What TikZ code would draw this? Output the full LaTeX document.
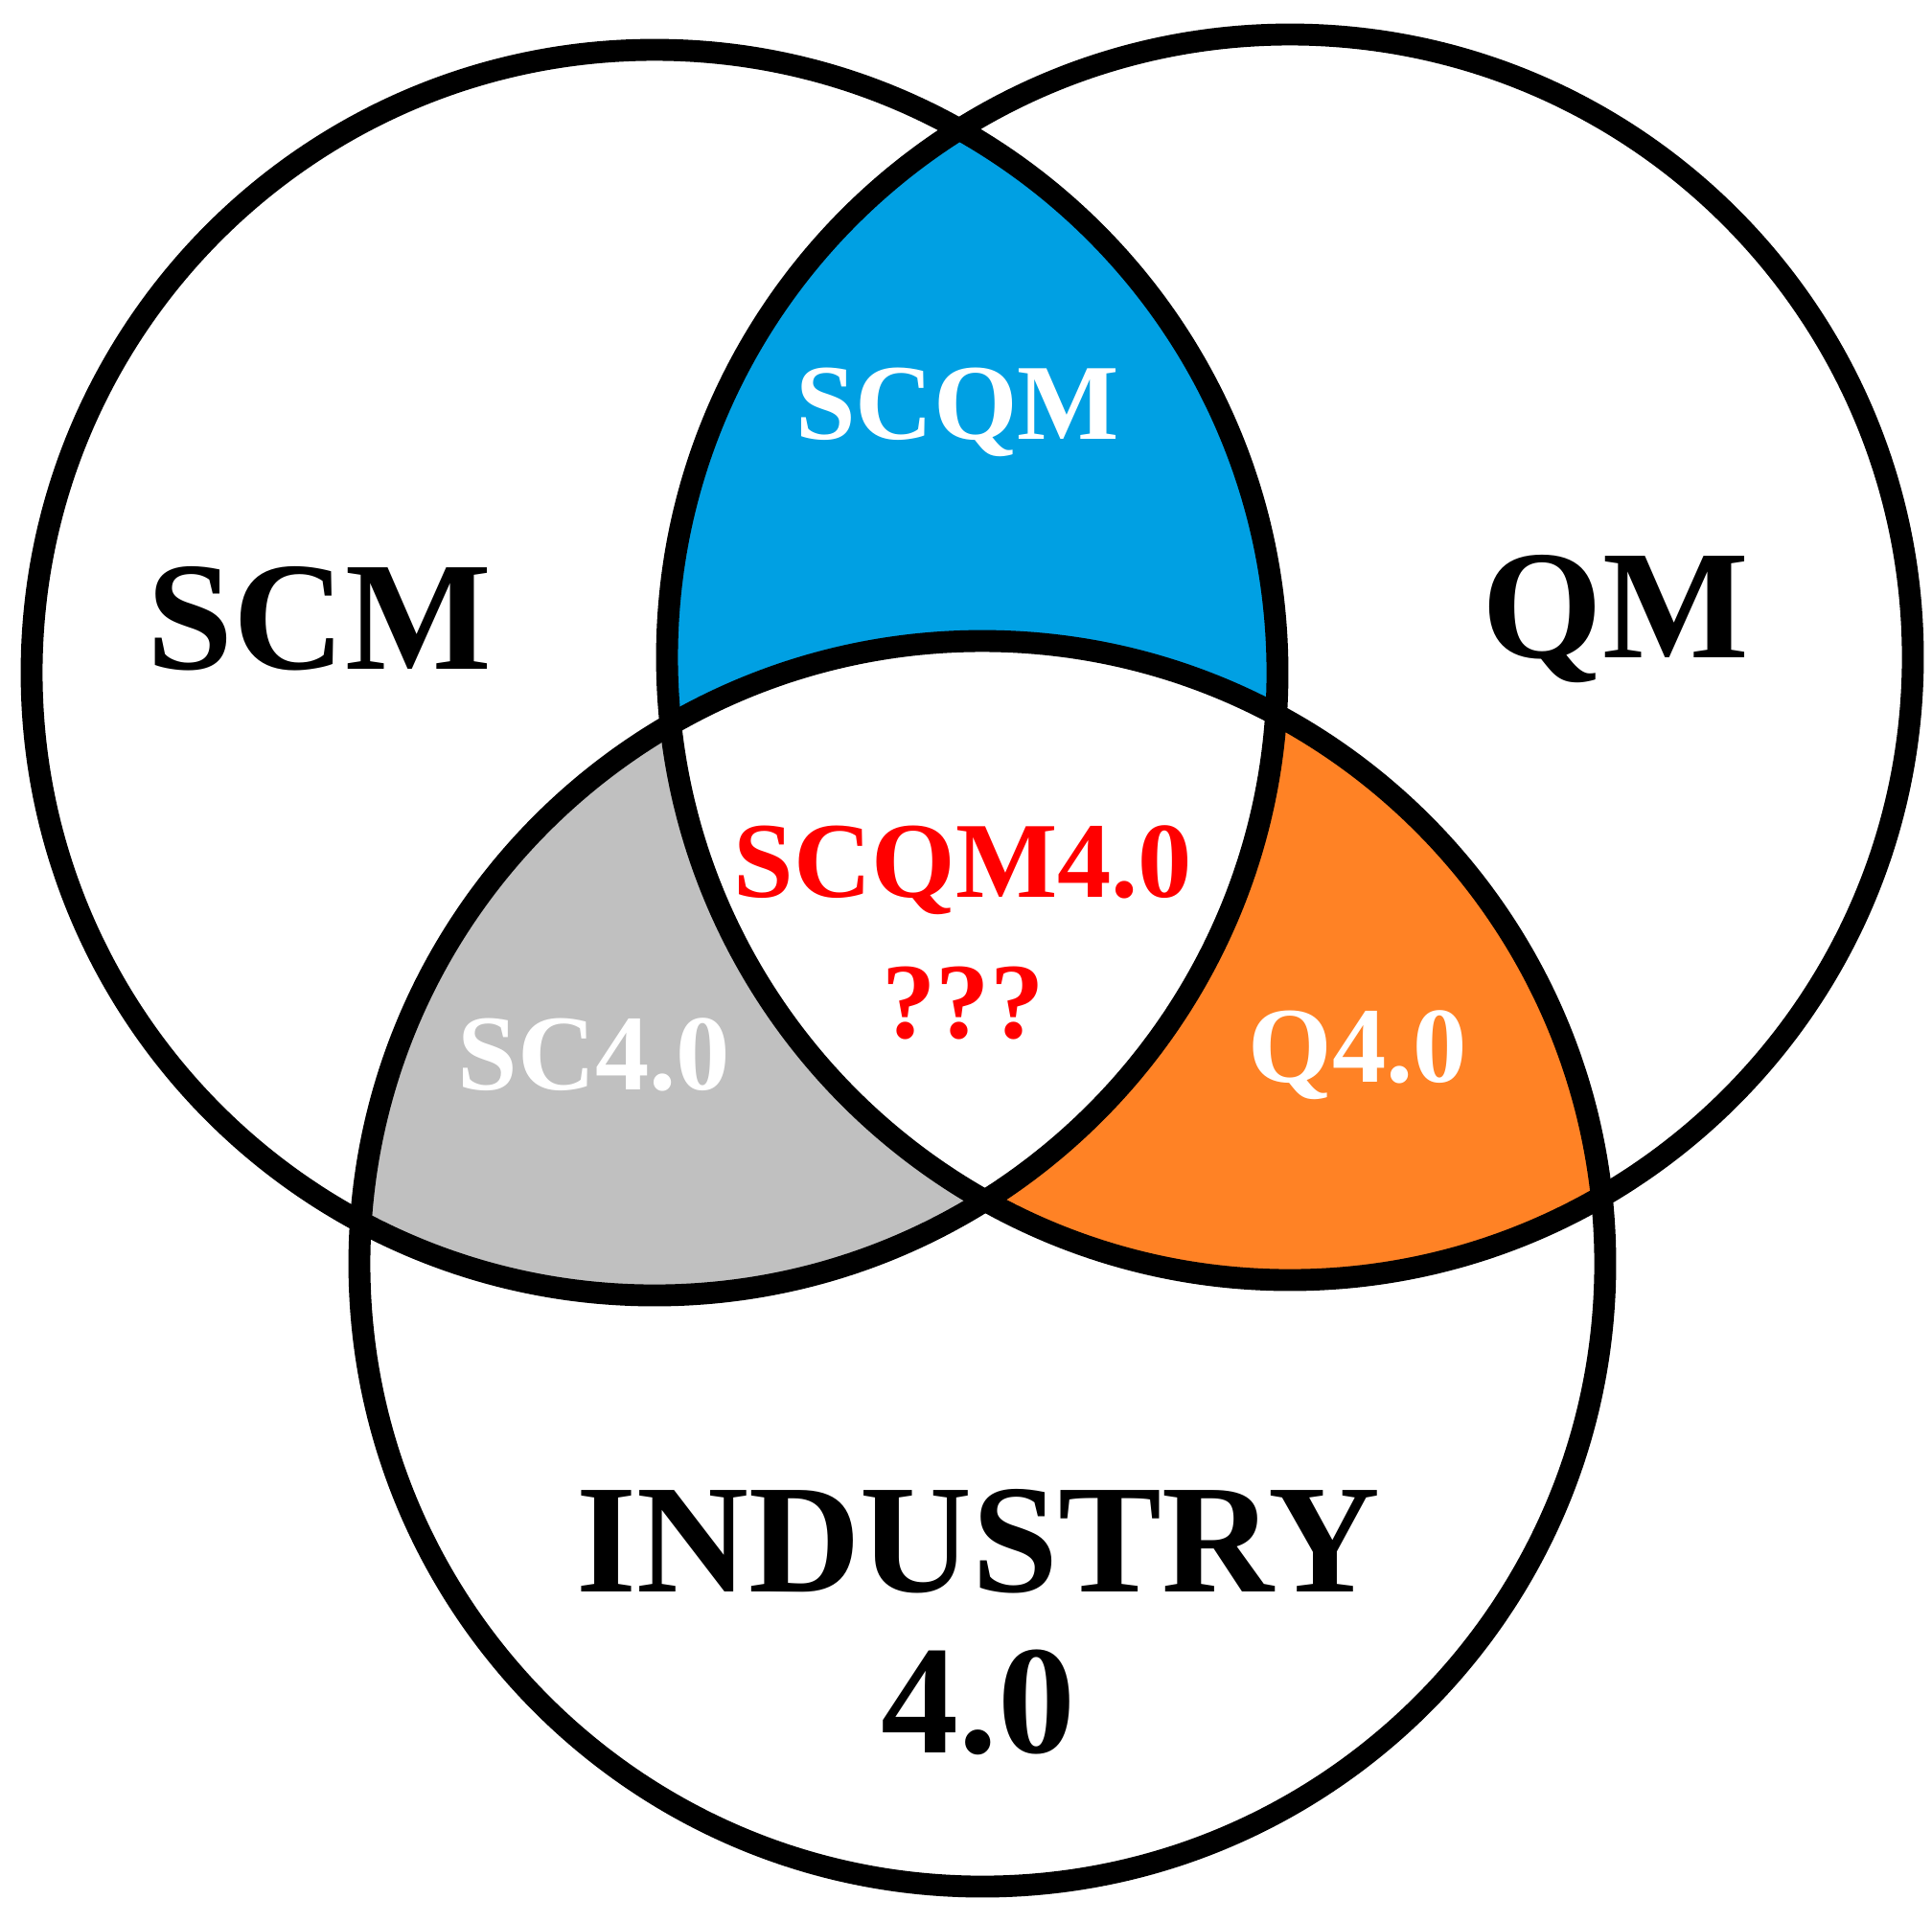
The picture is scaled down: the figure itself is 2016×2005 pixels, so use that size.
\documentclass[tikz,border=0pt]{standalone}
\usepackage{fontspec}
\setmainfont{Liberation Serif}[BoldFont={Liberation Serif Bold}]
\begin{document}
\begin{tikzpicture}[x=0.01cm,y=-0.01cm,
  lbl/.style={font=\bfseries\fontsize{46}{50}\selectfont,align=center},
  sml/.style={font=\bfseries\fontsize{32}{36}\selectfont,align=center}]
\useasboundingbox (0,0) rectangle (2016,2005);
\def\cL{(683,702) circle[radius=650]}
\def\cR{(1346,686) circle[radius=650]}
\def\cB{(1025,1319) circle[radius=650]}
\definecolor{vblue}{HTML}{00A0E3}
\definecolor{vorange}{HTML}{FF8225}
\definecolor{vgray}{HTML}{C0C0C0}
\begin{scope}\clip \cL; \fill[vblue] \cR; \end{scope}
\begin{scope}\clip \cL; \fill[vgray] \cB; \end{scope}
\begin{scope}\clip \cR; \fill[vorange] \cB; \end{scope}
\begin{scope}\clip \cL; \clip \cR; \fill[white] \cB; \end{scope}
\begin{scope}[line width=6.5pt]
\draw \cL; \draw \cR; \draw \cB;
\end{scope}
\node[lbl] (scm) at (333,646) {SCM};
\node[lbl] (qm) at (1686,646) {QM};
\node[sml,white] (scqm) at (999,430) {SCQM};
\node[sml,red] (c) at (1005,908) {SCQM4.0};
\node[sml,red] (q) at (1005,1047) {???};
\node[sml,white] (sc) at (620,1101) {SC4.0};
\node[sml,white] (q4) at (1417,1101) {Q4.0};
\node[lbl] (ind) at (1021,1609) {INDUSTRY};
\node[lbl] (four) at (1021,1777) {4.0};
\end{tikzpicture}
\end{document}
